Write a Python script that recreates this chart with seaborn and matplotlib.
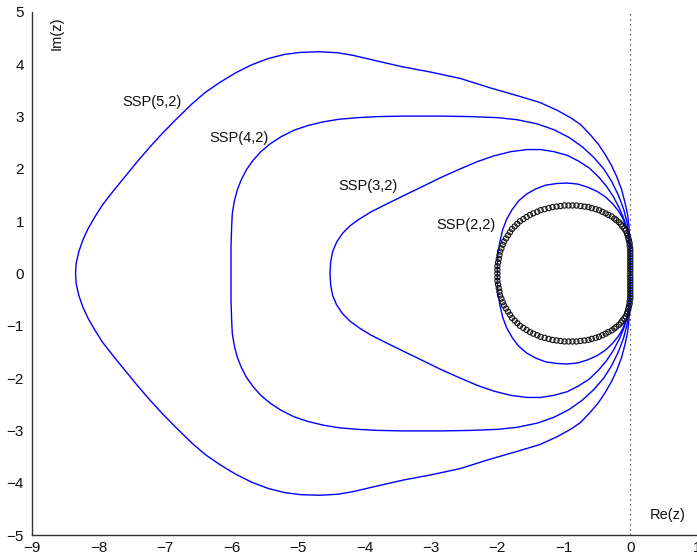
import numpy as np
import pandas as pd
import matplotlib
matplotlib.use("Agg")
import matplotlib.pyplot as plt
import seaborn as sns

# Upper halves of stability-region boundaries; lower halves mirror them
ssp22_x = [-2.00, -2.00, -1.99, -1.96, -1.92, -1.86, -1.78, -1.68, -1.56, -1.42, -1.27, -1.11, -0.95,
           -0.79, -0.64, -0.50, -0.38, -0.27, -0.18, -0.11, -0.06, -0.03, -0.01, 0.00, 0.00]
ssp22_y = [0.00, 0.20, 0.40, 0.62, 0.84, 1.04, 1.22, 1.39, 1.52, 1.62, 1.69, 1.72, 1.73,
           1.71, 1.65, 1.57, 1.47, 1.34, 1.20, 1.05, 0.88, 0.70, 0.50, 0.25, 0.00]

ssp32_x = [-4.52, -4.51, -4.48, -4.42, -4.33, -4.22, -4.08, -3.90, -3.65, -3.36, -3.10, -2.86, -2.56,
           -2.30, -2.05, -1.80, -1.55, -1.35, -1.15, -0.95, -0.78, -0.62, -0.48, -0.36, -0.25, -0.16,
           -0.09, -0.04, -0.01, 0.00, 0.00]
ssp32_y = [0.00, 0.22, 0.42, 0.60, 0.77, 0.91, 1.04, 1.18, 1.34, 1.52, 1.68, 1.83, 2.00,
           2.14, 2.25, 2.33, 2.37, 2.37, 2.33, 2.26, 2.15, 2.02, 1.85, 1.67, 1.46, 1.24,
           1.02, 0.80, 0.55, 0.30, 0.00]

ssp42_x = [-6.01, -6.01, -6.00, -5.99, -5.96, -5.92, -5.86, -5.78, -5.68, -5.56, -5.42, -5.25, -5.06,
           -4.85, -4.62, -4.38, -4.10, -3.80, -3.40, -2.86, -2.40, -2.00, -1.70, -1.40, -1.15, -0.92,
           -0.72, -0.55, -0.40, -0.28, -0.18, -0.10, -0.05, -0.02, 0.00, 0.00]
ssp42_y = [0.00, 0.50, 0.90, 1.15, 1.38, 1.58, 1.78, 1.98, 2.16, 2.33, 2.48, 2.62, 2.74,
           2.83, 2.90, 2.95, 2.98, 3.00, 3.01, 3.01, 3.00, 2.98, 2.94, 2.86, 2.75, 2.60,
           2.42, 2.22, 2.00, 1.76, 1.50, 1.23, 0.98, 0.72, 0.40, 0.00]

ssp52_x = [-8.35, -8.34, -8.30, -8.24, -8.16, -8.06, -7.94, -7.78, -7.60, -7.42, -7.23, -7.05, -6.85,
           -6.60, -6.40, -6.17, -5.95, -5.70, -5.45, -5.20, -4.95, -4.67, -4.40, -4.17, -3.80, -3.42,
           -3.00, -2.56, -2.11, -1.70, -1.36, -1.10, -0.90, -0.75, -0.60, -0.48, -0.38, -0.28, -0.20,
           -0.13, -0.08, -0.04, -0.02, -0.01, 0.00, 0.00]
ssp52_y = [0.00, 0.20, 0.42, 0.64, 0.86, 1.08, 1.32, 1.58, 1.86, 2.14, 2.42, 2.67, 2.93,
           3.24, 3.46, 3.66, 3.83, 3.99, 4.11, 4.19, 4.23, 4.24, 4.22, 4.17, 4.06, 3.95,
           3.85, 3.73, 3.55, 3.40, 3.27, 3.12, 2.98, 2.85, 2.65, 2.47, 2.28, 2.06, 1.84,
           1.60, 1.36, 1.12, 0.90, 0.65, 0.35, 0.00]

# Open-circle markers (upper half)
circ_x = [-2.00, -2.00, -2.00, -1.99, -1.98, -1.97, -1.96, -1.94, -1.92, -1.90, -1.87, -1.84, -1.81, -1.78,
          -1.74, -1.70, -1.66, -1.61, -1.56, -1.51, -1.46, -1.40, -1.35, -1.29, -1.23, -1.17, -1.11, -1.05,
          -0.99, -0.93, -0.87, -0.81, -0.75, -0.69, -0.63, -0.58, -0.52, -0.47, -0.42, -0.37, -0.33, -0.28,
          -0.24, -0.21, -0.17, -0.14, -0.12, -0.09, -0.07, -0.05, -0.04, -0.03, -0.02, -0.01, -0.01, 0.00,
          0.00, 0.00, 0.00, 0.00, 0.00, 0.00, 0.00, 0.00, 0.00]
circ_y = [0.00, 0.07, 0.14, 0.21, 0.28, 0.35, 0.42, 0.48, 0.55, 0.61, 0.67, 0.73, 0.79, 0.85,
          0.90, 0.95, 1.00, 1.04, 1.08, 1.12, 1.15, 1.18, 1.21, 1.23, 1.25, 1.27, 1.28, 1.29,
          1.30, 1.30, 1.30, 1.30, 1.29, 1.28, 1.27, 1.25, 1.23, 1.21, 1.18, 1.15, 1.12, 1.09,
          1.05, 1.02, 0.98, 0.94, 0.90, 0.86, 0.82, 0.77, 0.73, 0.68, 0.63, 0.58, 0.53, 0.48,
          0.43, 0.38, 0.33, 0.28, 0.23, 0.18, 0.13, 0.08, 0.03]

labels = ["SSP(2,2)", "SSP(3,2)", "SSP(4,2)", "SSP(5,2)"]
label_x = [-2.92, -4.40, -6.34, -7.65]
label_y = [0.92, 1.68, 2.60, 3.28]

x_ticks = [-9, -8, -7, -6, -5, -4, -3, -2, -1, 0, 1]
y_ticks = [-5, -4, -3, -2, -1, 0, 1, 2, 3, 4, 5]


def closed(xs, ys):
    xs = np.asarray(xs, float)
    ys = np.asarray(ys, float)
    fx = np.concatenate([xs, xs[::-1][1:]])
    fy = np.concatenate([ys, -ys[::-1][1:]])
    return fx, fy


sns.set_style("white")
plt.rcParams["font.family"] = ["Liberation Sans", "DejaVu Sans"]

fig = plt.figure(figsize=(6.97, 5.58), dpi=100)
ax = fig.add_axes([0.0464, 0.0412, 0.9532, 0.9373])

frames = []
for name, xs, ys in [("SSP(2,2)", ssp22_x, ssp22_y), ("SSP(3,2)", ssp32_x, ssp32_y),
                     ("SSP(4,2)", ssp42_x, ssp42_y), ("SSP(5,2)", ssp52_x, ssp52_y)]:
    fx, fy = closed(xs, ys)
    frames.append(pd.DataFrame({"re": fx, "im": fy, "method": name}))
curves = pd.concat(frames, ignore_index=True)

for name, grp in curves.groupby("method"):
    sns.lineplot(data=grp, x="re", y="im", sort=False, estimator=None, color="#0000ff",
                 lw=1.0, ax=ax, legend=False, solid_capstyle="butt", solid_joinstyle="round")

cx = np.concatenate([circ_x, np.asarray(circ_x)[::-1][:-1]])
cy = np.concatenate([circ_y, -np.asarray(circ_y)[::-1][:-1]])
circ = pd.DataFrame({"re": cx, "im": cy})
sns.scatterplot(data=circ, x="re", y="im", ax=ax, marker="o", s=14,
                facecolor="none", edgecolor="#111111", linewidth=0.8, zorder=5)

ax.axvline(0, color="#333333", linestyle=(0, (1, 3)), lw=0.9, zorder=1)

for t, lx, ly in zip(labels, label_x, label_y):
    ax.text(lx, ly, t, fontsize=10.5, ha="left", va="center", color="#111111")

ax.text(-8.64, 4.92, "Im(z)", rotation=90, fontsize=10.5, ha="center", va="top", color="#111111")
ax.text(0.56, -4.61, "Re(z)", fontsize=10.5, ha="center", va="center", color="#111111")

ax.set_xlim(-9, 1)
ax.set_ylim(-5, 5)
ax.set_xticks(x_ticks)
ax.set_yticks(y_ticks)
ax.set_xlabel("")
ax.set_ylabel("")
for s in ["top", "right"]:
    ax.spines[s].set_visible(False)
for s in ["left", "bottom"]:
    ax.spines[s].set_color("#333333")
    ax.spines[s].set_linewidth(1.0)
ax.tick_params(direction="in", length=5, width=1.0, color="#333333", labelsize=11,
               labelcolor="#111111")
ax.tick_params(axis="y", pad=6)
ax.tick_params(axis="x", pad=4)

fig.savefig("out.png", dpi=100)
